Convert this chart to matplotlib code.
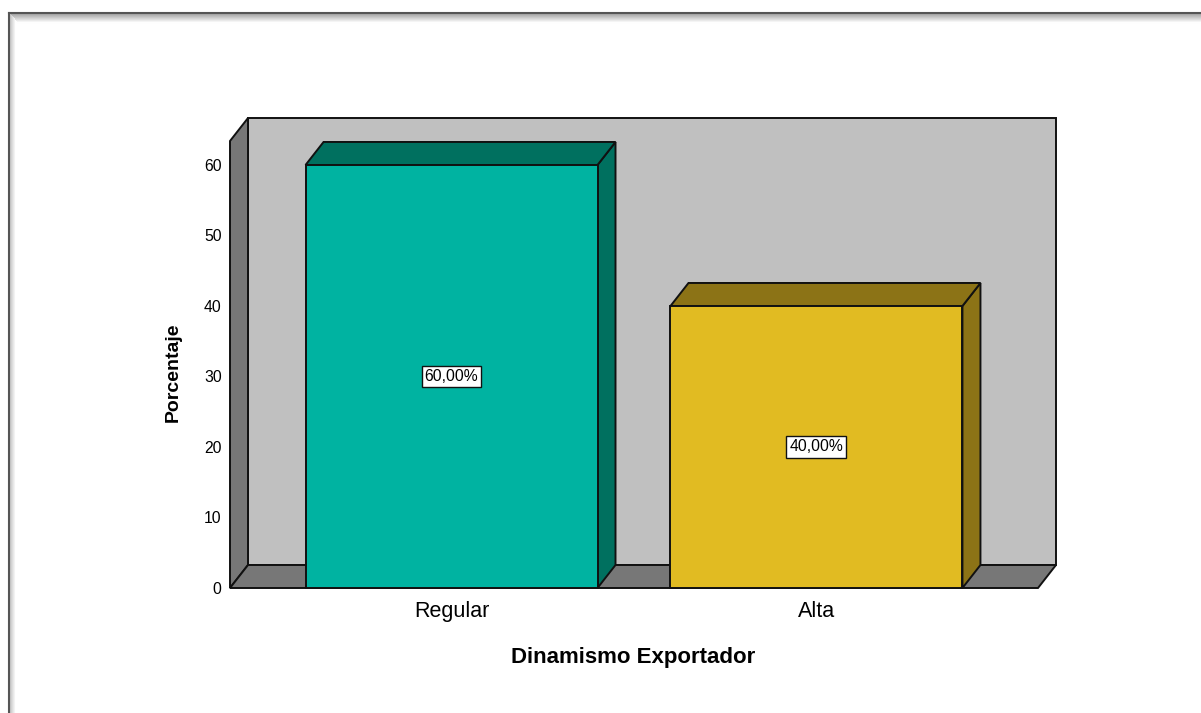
import matplotlib
matplotlib.use("Agg")
import matplotlib.pyplot as plt
from matplotlib.patches import Polygon
from matplotlib.lines import Line2D

plt.rcParams['font.family'] = ['Liberation Sans', 'DejaVu Sans']

# data
categorias = ['Regular', 'Alta']
porcentajes = [60.0, 40.0]
y_ticks = [0, 10, 20, 30, 40, 50, 60]
x_title = 'Dinamismo Exportador'
y_title = 'Porcentaje'

# colours
front_cols = ['#00B3A1', '#E1BB22']
dark_cols = ['#00705F', '#8C7316']
wall_col = '#C0C0C0'
side_col = '#777777'
edge = '#111111'

W, H = 1201, 713
fig = plt.figure(figsize=(W / 100, H / 100), dpi=100)
fig.patch.set_facecolor('white')

# front plane of the chart in pixels: x 230..1038, y 588 (zero) .. 141
ax = fig.add_axes([230 / W, (H - 588) / H, 808 / W, 447 / H])
XLIM = (-0.607, 1.607)
YMAX = 63.4
ax.set_xlim(XLIM)
ax.set_ylim(0, YMAX)
for s in ax.spines.values():
    s.set_visible(False)
ax.patch.set_visible(False)

# depth of the 3d effect (pixels -> data units)
dx = 18 * (XLIM[1] - XLIM[0]) / 808
dy = 23 * YMAX / 447
x0, x1 = XLIM
lw = 1.4

def poly(pts, fc, z):
    ax.add_patch(Polygon(pts, closed=True, facecolor=fc, edgecolor=edge,
                         lw=lw, joinstyle='miter', clip_on=False, zorder=z))

# back wall, left wall, floor
poly([(x0 + dx, dy), (x1 + dx, dy), (x1 + dx, YMAX + dy), (x0 + dx, YMAX + dy)], wall_col, 1)
poly([(x0, 0), (x0 + dx, dy), (x0 + dx, YMAX + dy), (x0, YMAX)], side_col, 2)
poly([(x0, 0), (x1, 0), (x1 + dx, dy), (x0 + dx, dy)], side_col, 2)

# bars
bw = 0.8
for i, (v, fc, dc) in enumerate(zip(porcentajes, front_cols, dark_cols)):
    a, b = i - bw / 2, i + bw / 2
    poly([(b, 0), (b + dx, dy), (b + dx, v + dy), (b, v)], dc, 3)
    poly([(a, v), (b, v), (b + dx, v + dy), (a + dx, v + dy)], dc, 3)
    poly([(a, 0), (b, 0), (b, v), (a, v)], fc, 4)
    txt = f"{v:.2f}%".replace('.', ',')
    ax.text(i, v / 2, txt, ha='center', va='center', fontsize=11.3, zorder=6,
            bbox=dict(boxstyle='square,pad=0.2', fc='white', ec=edge, lw=1.0))

ax.set_yticks(y_ticks)
ax.set_yticklabels([str(t) for t in y_ticks], fontsize=11.3)
ax.set_xticks(range(len(categorias)))
ax.set_xticklabels(categorias, fontsize=15.5)
ax.tick_params(axis='y', length=0, pad=6)
ax.tick_params(axis='x', length=0, pad=9.5)

fig.text(633 / W, 1 - 657 / H, x_title, ha='center', va='center',
         fontsize=16, fontweight='bold')
fig.text(173 / W, 1 - 372 / H, y_title, ha='center', va='center',
         fontsize=14, fontweight='bold', rotation=90)

# outer frame with a soft shadow (top and left)
fx, fy = 8.5, 12.5
for k in range(1, 10):
    g = 0.62 + 0.042 * k
    c = (g, g, g)
    fig.add_artist(Line2D([(fx + k) / W, 1], [1 - (fy + k) / H] * 2,
                          transform=fig.transFigure, color=c, lw=0.75))
    if k < 6:
        fig.add_artist(Line2D([(fx + k) / W] * 2, [0, 1 - (fy + k) / H],
                              transform=fig.transFigure, color=(g + 0.12,) * 3, lw=0.75))
fig.add_artist(Line2D([fx / W, 1], [1 - fy / H] * 2, transform=fig.transFigure,
                      color='#555555', lw=1.5))
fig.add_artist(Line2D([fx / W] * 2, [0, 1 - fy / H], transform=fig.transFigure,
                      color='#555555', lw=1.5))

fig.savefig('out.png', dpi=100, facecolor='white')
